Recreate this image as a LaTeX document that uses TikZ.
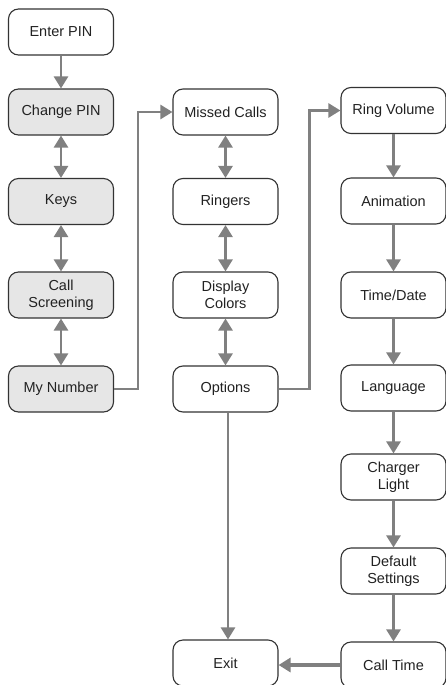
\documentclass[tikz,border=0pt]{standalone}
\usepackage{fontspec}
\setmainfont{Liberation Sans}
\usetikzlibrary{arrows.meta}
\definecolor{conn}{HTML}{808080}
\definecolor{boxline}{HTML}{333333}
\definecolor{graybox}{HTML}{E6E6E6}
\definecolor{txt}{HTML}{222222}
\begin{document}
\begin{tikzpicture}[x=1pt,y=-1pt,
  menubox/.style={draw=boxline, line width=1.1pt, rounded corners=10pt, fill=white,
    minimum width=105pt, minimum height=46pt, align=center, text=txt, inner sep=2pt,
    font=\fontsize{14.5}{16.7}\selectfont},
  shaded/.style={menubox, fill=graybox},
  one/.style={draw=conn, line width=2.6pt, -{Triangle[length=12pt,width=14pt]}},
  two/.style={draw=conn, line width=2.6pt, {Triangle[length=12pt,width=14pt]}-{Triangle[length=12pt,width=14pt]}},
  thick1/.style={draw=conn, line width=4pt, -{Triangle[length=12pt,width=14pt]}}]
\useasboundingbox (0,0) rectangle (446,685);
% column 1
\node[menubox] (enter) at (61,32) {Enter PIN};
\node[shaded] (change) at (61,112) {Change PIN};
\node[shaded] (keys) at (61,201.5) {Keys};
\node[shaded] (screen) at (61,295) {Call\\Screening};
\node[shaded] (mynum) at (61,389) {My Number};
% column 2
\node[menubox] (missed) at (225.5,112) {Missed Calls};
\node[menubox] (ringers) at (225.5,201.5) {Ringers};
\node[menubox] (display) at (225.5,295) {Display\\Colors};
\node[menubox] (options) at (225.5,389) {Options};
\node[menubox] (exit) at (225.5,663) {Exit};
% column 3
\node[menubox] (ringvol) at (393.5,110.5) {Ring Volume};
\node[menubox] (anim) at (393.5,201) {Animation};
\node[menubox] (timedate) at (393.5,295) {Time/Date};
\node[menubox] (lang) at (393.5,388) {Language};
\node[menubox] (charger) at (393.5,477) {Charger\\Light};
\node[menubox] (default) at (393.5,571) {Default\\Settings};
\node[menubox] (calltime) at (393.5,665) {Call Time};
% connectors column 1
\draw[one] (enter) -- (change);
\draw[two] (change) -- (keys);
\draw[two] (keys) -- (screen);
\draw[two] (screen) -- (mynum);
\draw[one] (mynum.east) -- ++(24,0) |- (missed.west);
% column 2
\draw[two] (missed) -- (ringers);
\draw[two] (ringers) -- (display);
\draw[two] (display) -- (options);
\draw[one] (options.east) -- ++(31,0) |- (ringvol.west);
\draw[one] ([xshift=2.5pt]options.south) -- ([xshift=2.5pt]exit.north);
% column 3
\draw[one] (ringvol) -- (anim);
\draw[one] (anim) -- (timedate);
\draw[one] (timedate) -- (lang);
\draw[one] (lang) -- (charger);
\draw[one] (charger) -- (default);
\draw[one] (default) -- (calltime);
\draw[thick1] (calltime.west) -- (exit.east |- calltime.west);
\end{tikzpicture}
\end{document}
